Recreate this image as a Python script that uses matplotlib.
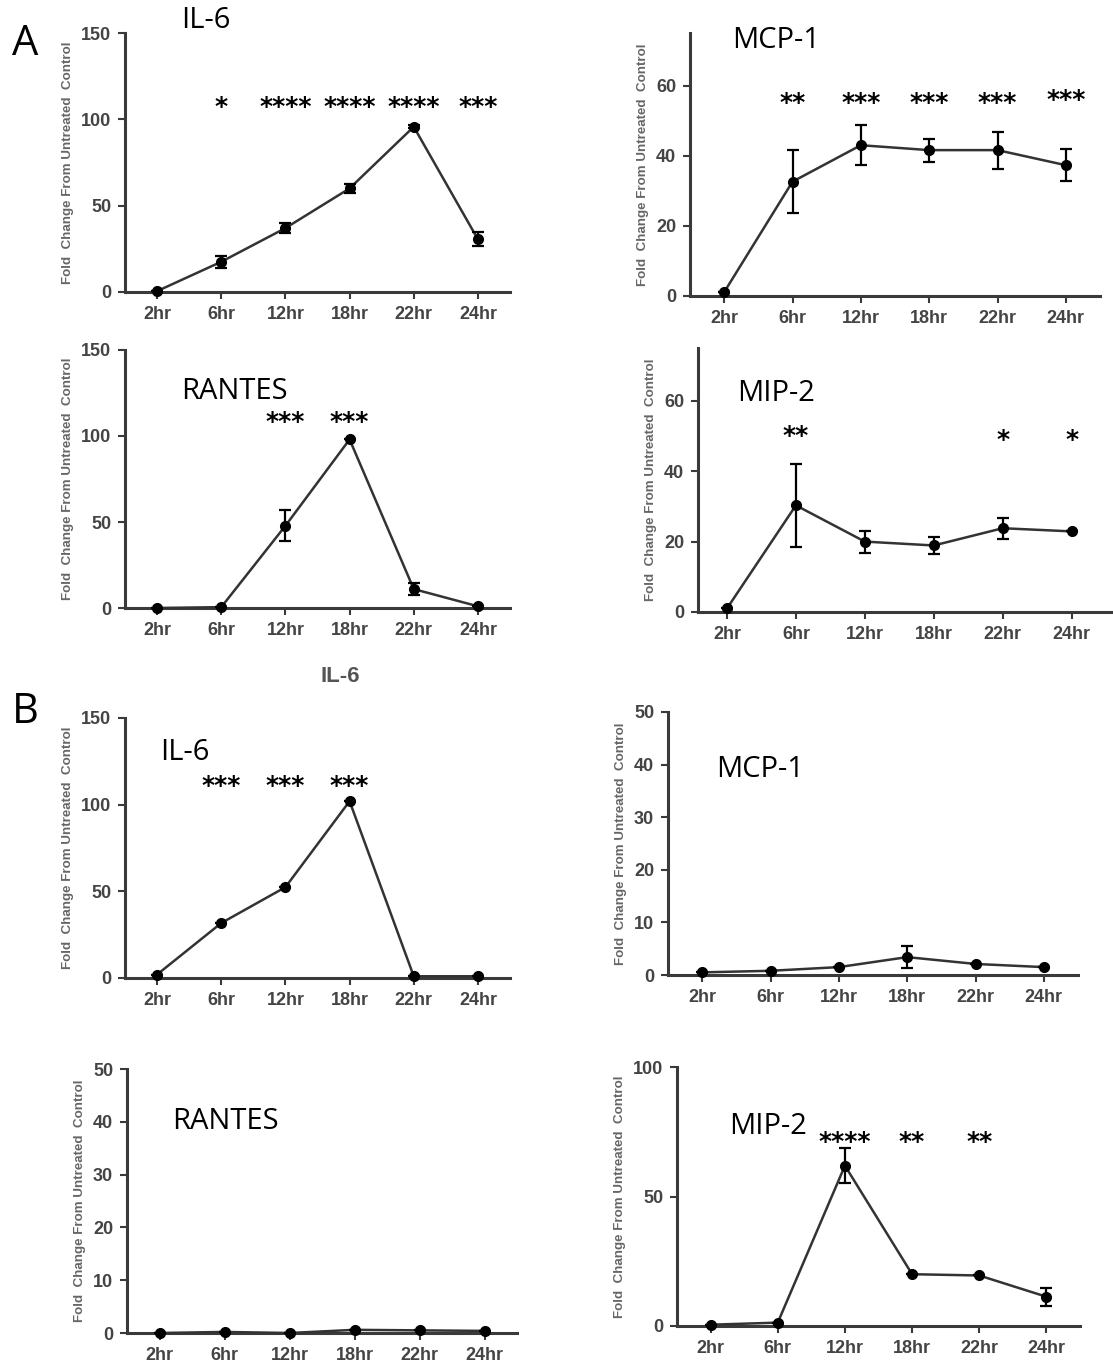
import numpy as np
import matplotlib
matplotlib.use("Agg")
import matplotlib.pyplot as plt

W, H = 1113, 1367
fig = plt.figure(figsize=(W / 100, H / 100), dpi=100)

hours = ['2hr', '6hr', '12hr', '18hr', '22hr', '24hr']

# panel A
a_il6 = [0.5, 17.5, 37, 60, 95.7, 30.5]
a_il6_err = [0, 3.5, 3, 2.5, 1, 4]
a_il6_stars = ['', '*', '****', '****', '****', '***']

a_mcp1 = [1.1, 32.6, 43, 41.6, 41.6, 37.3]
a_mcp1_err = [0, 9, 5.7, 3.3, 5.3, 4.5]
a_mcp1_stars = ['', '**', '***', '***', '***', '***']

a_rantes = [0, 0.5, 47.8, 98, 11, 1]
a_rantes_err = [0, 0, 9, 0, 3.5, 0]
a_rantes_stars = ['', '', '***', '***', '', '']

a_mip2 = [1, 30.3, 20, 18.9, 23.8, 22.9]
a_mip2_err = [0, 11.7, 3.1, 2.4, 3, 0]
a_mip2_stars = ['', '**', '', '', '*', '*']

# panel B
b_il6 = [2, 31.7, 52.4, 102, 1, 1]
b_il6_err = [0, 0, 0, 0, 0, 0]
b_il6_stars = ['', '***', '***', '***', '', '']

b_mcp1 = [0.5, 0.8, 1.5, 3.4, 2.1, 1.5]
b_mcp1_err = [0, 0, 0, 2.1, 0, 0]
b_mcp1_stars = ['', '', '', '', '', '']

b_rantes = [0, 0.2, 0, 0.6, 0.5, 0.4]
b_rantes_err = [0, 0, 0, 0, 0, 0]
b_rantes_stars = ['', '', '', '', '', '']

b_mip2 = [0.5, 1.3, 61.9, 20, 19.5, 11.3]
b_mip2_err = [0, 0, 6.8, 0, 0, 3.5]
b_mip2_stars = ['', '', '****', '**', '**', '']

axis_col = '#3a3a3a'
tick_col = '#444444'


def make_ax(left, top, right, bottom):
    return fig.add_axes([left / W, 1 - bottom / H, (right - left) / W, (bottom - top) / H])


def draw_panel(ax, vals, errs, stars, name, ymax, yticks, star_y, name_xy, xlim=(-0.5, 5.5)):
    x = np.arange(len(hours))
    ax.plot(x, vals, color='#333333', lw=1.8, zorder=3, clip_on=False)
    ax.errorbar(x, vals, yerr=errs, fmt='o', color='black', ms=7, capsize=4,
                elinewidth=1.6, capthick=1.6, zorder=4, clip_on=False)
    ax.set_xlim(*xlim)
    ax.set_ylim(0, ymax)
    ax.set_xticks(x)
    ax.set_xticklabels(hours)
    ax.set_yticks(yticks)
    for s in ['top', 'right']:
        ax.spines[s].set_visible(False)
    for s in ['left', 'bottom']:
        ax.spines[s].set_color(axis_col)
        ax.spines[s].set_linewidth(2.2)
    ax.tick_params(axis='both', direction='out', length=5, width=1.5, color=axis_col,
                   labelcolor=tick_col, labelsize=13, pad=5)
    for lab in ax.get_xticklabels() + ax.get_yticklabels():
        lab.set_fontweight('bold')
        lab.set_family('Liberation Sans')
    ax.set_ylabel('Fold  Change From Untreated  Control', fontsize=9.6, color='#666666',
                  family='Liberation Sans', fontweight='bold', labelpad=5)
    for i, s in enumerate(stars):
        if s:
            ax.text(i, star_y[i] if isinstance(star_y, list) else star_y, s, ha='center',
                    va='center', fontsize=18, fontweight='bold', family='DejaVu Sans',
                    color='black', clip_on=False)
    ax.text(name_xy[0], name_xy[1], name, ha='left', va='center', fontsize=21,
            family='Open Sans', color='black', clip_on=False)
    ax.patch.set_alpha(0)


ax = make_ax(125, 33, 510, 292)
draw_panel(ax, a_il6, a_il6_err, a_il6_stars, 'IL-6', 150, [0, 50, 100, 150], 107,
           (0.38, 157))

ax = make_ax(690, 33, 1100, 296)
draw_panel(ax, a_mcp1, a_mcp1_err, a_mcp1_stars, 'MCP-1', 75, [0, 20, 40, 60],
           [0, 55, 55, 55, 55, 56], (0.12, 73))

ax = make_ax(125, 350, 510, 608)
draw_panel(ax, a_rantes, a_rantes_err, a_rantes_stars, 'RANTES', 150, [0, 50, 100, 150], 108,
           (0.37, 126))

ax = make_ax(698, 348, 1113, 612)
draw_panel(ax, a_mip2, a_mip2_err, a_mip2_stars, 'MIP-2', 75, [0, 20, 40, 60],
           [0, 50, 0, 0, 49, 49], (0.15, 62), xlim=(-0.42, 5.6))

ax = make_ax(125, 718, 510, 978)
draw_panel(ax, b_il6, b_il6_err, b_il6_stars, 'IL-6', 150, [0, 50, 100, 150], 111,
           (0.05, 130))

ax = make_ax(668, 712, 1078, 975)
draw_panel(ax, b_mcp1, b_mcp1_err, b_mcp1_stars, 'MCP-1', 50, [0, 10, 20, 30, 40, 50], 0,
           (0.2, 39))

ax = make_ax(127, 1069, 517, 1333)
draw_panel(ax, b_rantes, b_rantes_err, b_rantes_stars, 'RANTES', 50, [0, 10, 20, 30, 40, 50], 0,
           (0.2, 40))

ax = make_ax(677, 1067, 1080, 1326)
draw_panel(ax, b_mip2, b_mip2_err, b_mip2_stars, 'MIP-2', 100, [0, 50, 100], 71,
           (0.28, 77))

# panel letters and the stray graph title
fig.text(25 / W, 1 - 44 / H, 'A', fontsize=30, family='Open Sans', ha='center', va='center')
fig.text(25 / W, 1 - 712 / H, 'B', fontsize=30, family='Open Sans', ha='center', va='center')
fig.text(340 / W, 1 - 677 / H, 'IL-6', fontsize=16, family='Liberation Sans',
         fontweight='bold', color='#555555', ha='center', va='center')

fig.savefig('out.png', dpi=100)
